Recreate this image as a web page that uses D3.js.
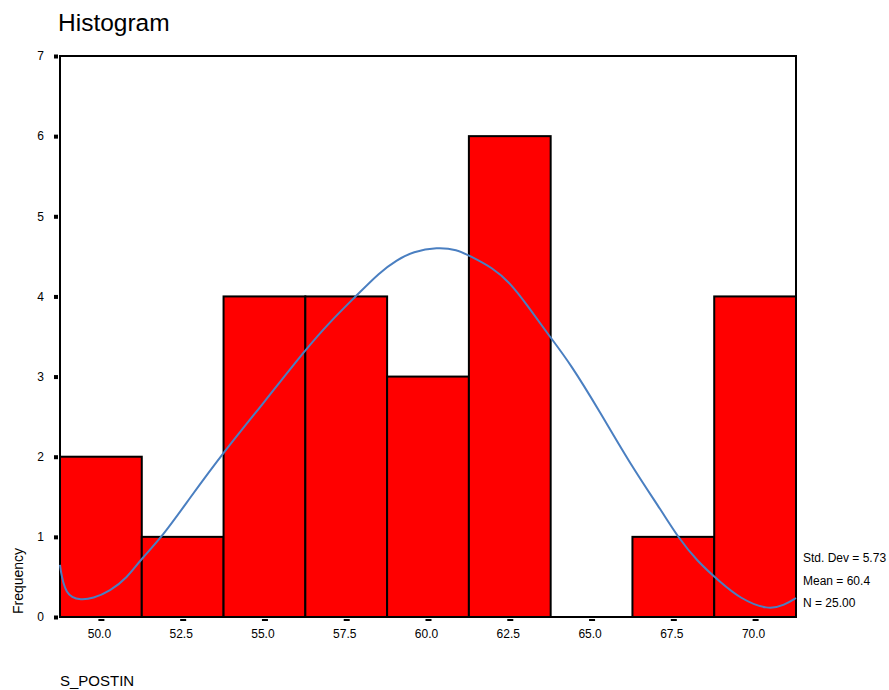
<!DOCTYPE html>
<html><head><meta charset="utf-8">
<script src="https://cdn.jsdelivr.net/npm/d3@7"></script>
<style>body{margin:0;background:#fff;} text{font-family:"Liberation Sans",Arial,sans-serif;}</style>
</head><body>
<svg id="chart" width="889" height="690"></svg>
<script>
const binCenters = [50.0, 52.5, 55.0, 57.5, 60.0, 62.5, 65.0, 67.5, 70.0];
const frequencies = [2, 1, 4, 4, 3, 6, 0, 1, 4];
const xTickLabels = ["50.0","52.5","55.0","57.5","60.0","62.5","65.0","67.5","70.0"];
const yTicks = [0,1,2,3,4,5,6,7];
const curveX = [48.75,48.78,48.85,48.95,49.11,49.36,49.76,50.28,50.80,51.23,51.87,52.72,53.73,55.02,56.27,57.00,57.77,58.53,59.05,59.54,60.28,60.89,61.28,61.99,62.51,63.03,63.73,64.34,65.26,66.18,67.18,67.64,68.22,68.93,69.54,70.39,70.91,71.25,71.25];
const curveY = [0.649,0.560,0.424,0.312,0.245,0.215,0.230,0.324,0.487,0.724,0.998,1.485,2.046,2.695,3.344,3.681,3.993,4.305,4.455,4.560,4.615,4.585,4.505,4.355,4.168,3.893,3.494,3.169,2.558,1.909,1.298,0.998,0.699,0.437,0.230,0.085,0.150,0.237,0.237];
const statsLines = ["Std. Dev = 5.73","Mean = 60.4","N = 25.00"];
const binWidth = 2.5;

const svg = d3.select("#chart");
const x = d3.scaleLinear().domain([48.75, 71.25]).range([60, 796]);
const y = d3.scaleLinear().domain([0, 7]).range([617, 56]);

// title
svg.append("text").attr("x", 58).attr("y", 31).attr("font-size", 24.5).text("Histogram");

// bars
svg.selectAll("rect.bar").data(binCenters.map((c,i)=>({c, f:frequencies[i]})).filter(d=>d.f>0))
  .enter().append("rect").attr("class","bar")
  .attr("x", d => x(d.c - binWidth/2))
  .attr("width", d => x(d.c + binWidth/2) - x(d.c - binWidth/2))
  .attr("y", d => y(d.f))
  .attr("height", d => y(0) - y(d.f))
  .attr("fill", "#ff0000").attr("stroke", "#000").attr("stroke-width", 2);

// frame
svg.append("rect").attr("x", x(48.75)).attr("y", y(7)).attr("width", x(71.25)-x(48.75)).attr("height", y(0)-y(7))
  .attr("fill","none").attr("stroke","#000").attr("stroke-width",2);

// curve
const line = d3.line().x(d=>x(d[0])).y(d=>y(d[1])).curve(d3.curveBasis);
svg.append("path").datum(curveX.map((v,i)=>[v,curveY[i]])).attr("d", line)
  .attr("fill","none").attr("stroke","#4a7fc1").attr("stroke-width",2);

// y axis ticks
const yAxis = d3.axisLeft(y).tickValues(yTicks).tickSize(0).tickPadding(16).tickFormat(d3.format("d"));
const gy = svg.append("g").attr("transform", `translate(${x(48.75)},0)`).call(yAxis);
gy.select(".domain").remove();
gy.selectAll("text").attr("font-size", 12).attr("fill","#000").attr("font-family","Liberation Sans, Arial, sans-serif");
gy.selectAll(".tick").append("rect").attr("x",-6).attr("y",-2).attr("width",4).attr("height",4).attr("fill","#000");

// x axis ticks
const xAxis = d3.axisBottom(x).tickValues(binCenters).tickSize(0).tickPadding(12).tickFormat((d,i)=>xTickLabels[i]);
const gx = svg.append("g").attr("transform", `translate(0,${y(0)})`).call(xAxis);
gx.select(".domain").remove();
gx.selectAll("text").attr("font-size", 12).attr("fill","#000").attr("dx", -2).attr("font-family","Liberation Sans, Arial, sans-serif");
gx.selectAll(".tick").append("rect").attr("x",-3).attr("y",2).attr("width",6).attr("height",2).attr("fill","#000");

// axis labels
svg.append("text").attr("transform","translate(23,581) rotate(-90)").attr("text-anchor","middle").attr("font-size",14).text("Frequency");
svg.append("text").attr("x", 60).attr("y", 686).attr("font-size", 15).text("S_POSTIN");

// stats
svg.selectAll("text.stat").data(statsLines).enter().append("text").attr("class","stat")
  .attr("x", 803).attr("y", (d,i)=>562 + i*22.5).attr("font-size", 12).text(d=>d);
</script>
</body></html>
